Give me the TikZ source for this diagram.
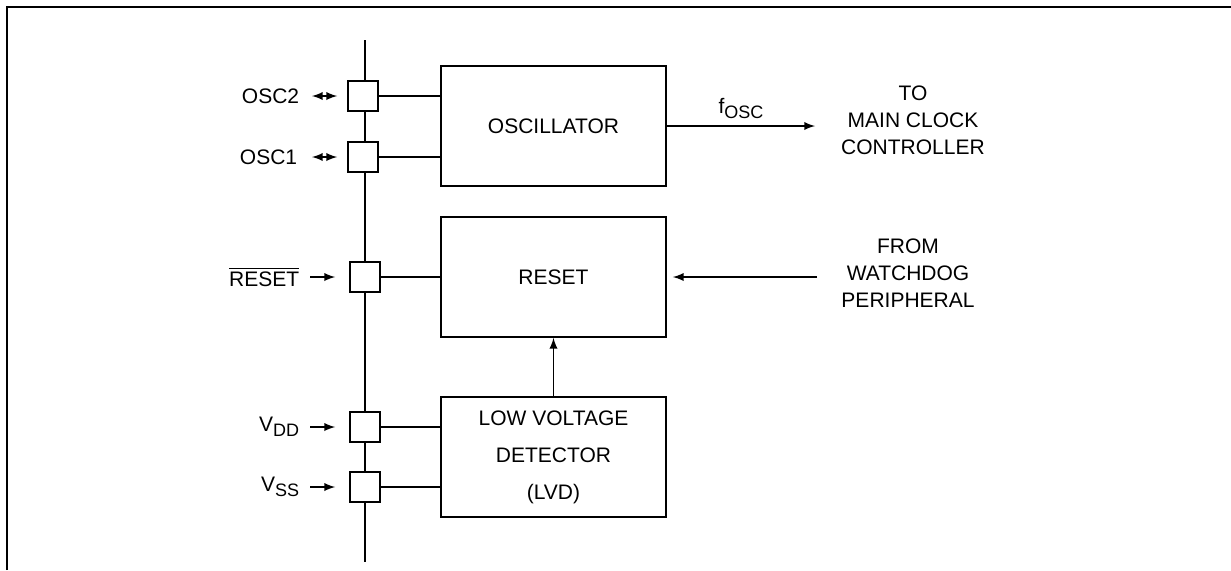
\documentclass[tikz,border=0pt]{standalone}
\usepackage{fontspec}
\setmainfont{Liberation Sans}
\newcommand{\pinsub}[1]{\raisebox{-0.45ex}{\fontsize{9}{10}\selectfont #1}}

\begin{document}
\begin{tikzpicture}[x=0.5pt,y=-0.5pt,line width=0.85pt,
    font=\fontsize{10.5}{13.5}\selectfont,
    pin/.style={draw,fill=white,minimum width=15pt,minimum height=15pt,inner sep=0pt},
    block/.style={draw,minimum width=112.5pt,minimum height=60pt,align=center},
    lbl/.style={anchor=east,inner sep=0pt}]
\useasboundingbox (0,0) rectangle (1231,570);
\draw [line width=1.1pt] (7,570) -- (7,7) -- (1231,7);
% pin bus
\draw (365,40) coordinate (bustop) -- (365,562) coordinate (busend);
\node [pin] (posc2) at (363,96) {};
\node [pin] (posc1) at (363,157) {};
\node [pin] (prst) at (365,277) {};
\node [pin] (pvdd) at (365,427) {};
\node [pin] (pvss) at (365,487) {};
% blocks
\node [block] (osc) at (553.5,126) {OSCILLATOR};
\node [block] (rst) at (553.5,277) {RESET};
\node [block,font=\fontsize{10.5}{18.5}\selectfont] (lvd) at (553.5,457)
    {LOW VOLTAGE\\DETECTOR\\(LVD)};
\draw (posc2.east) -- (posc2.east -| osc.west);
\draw (posc1.east) -- (posc1.east -| osc.west);
\draw (prst.east) -- (prst.east -| rst.west);
\draw (pvdd.east) -- (pvdd.east -| lvd.west);
\draw (pvss.east) -- (pvss.east -| lvd.west);
\draw (lvd.north) [-latex] -- (rst.south);
% pin labels
\node [lbl] (losc2) at (300,96) {OSC2};
\node [lbl] (losc1) at (298,157) {OSC1};
\node [lbl] (lrst) at (300,277) {$\overline{\mbox{RESET}}$};
\node [lbl] (lvdd) at (300,427) {V\pinsub{DD}};
\node [lbl] (lvss) at (300,487) {V\pinsub{SS}};
\draw [latex-latex] ([xshift=6pt]losc2.east) -- ([xshift=-5pt]posc2.west);
\draw [latex-latex] ([xshift=7pt]losc1.east) -- ([xshift=-5pt]posc1.west);
\draw [-latex] ([xshift=5pt]lrst.east) -- ([xshift=-7pt]prst.west);
\draw [-latex] ([xshift=5pt]lvdd.east) -- ([xshift=-7pt]pvdd.west);
\draw [-latex] ([xshift=5pt]lvss.east) -- ([xshift=-7pt]pvss.west);
% outside signals
\node [align=center] (mainclk) at (913,120) {TO\\MAIN CLOCK\\CONTROLLER};
\node [align=center] (wdog) at (908,273) {FROM\\WATCHDOG\\PERIPHERAL};
\coordinate (tomain) at (815,126);
\coordinate (fromwd) at (817,277);
\draw (osc.east) [-latex] -- (tomain) node [midway,above] {f\pinsub{OSC}};
\draw (fromwd) [-latex] -- ([xshift=3pt]rst.east);
\end{tikzpicture}
\end{document}
